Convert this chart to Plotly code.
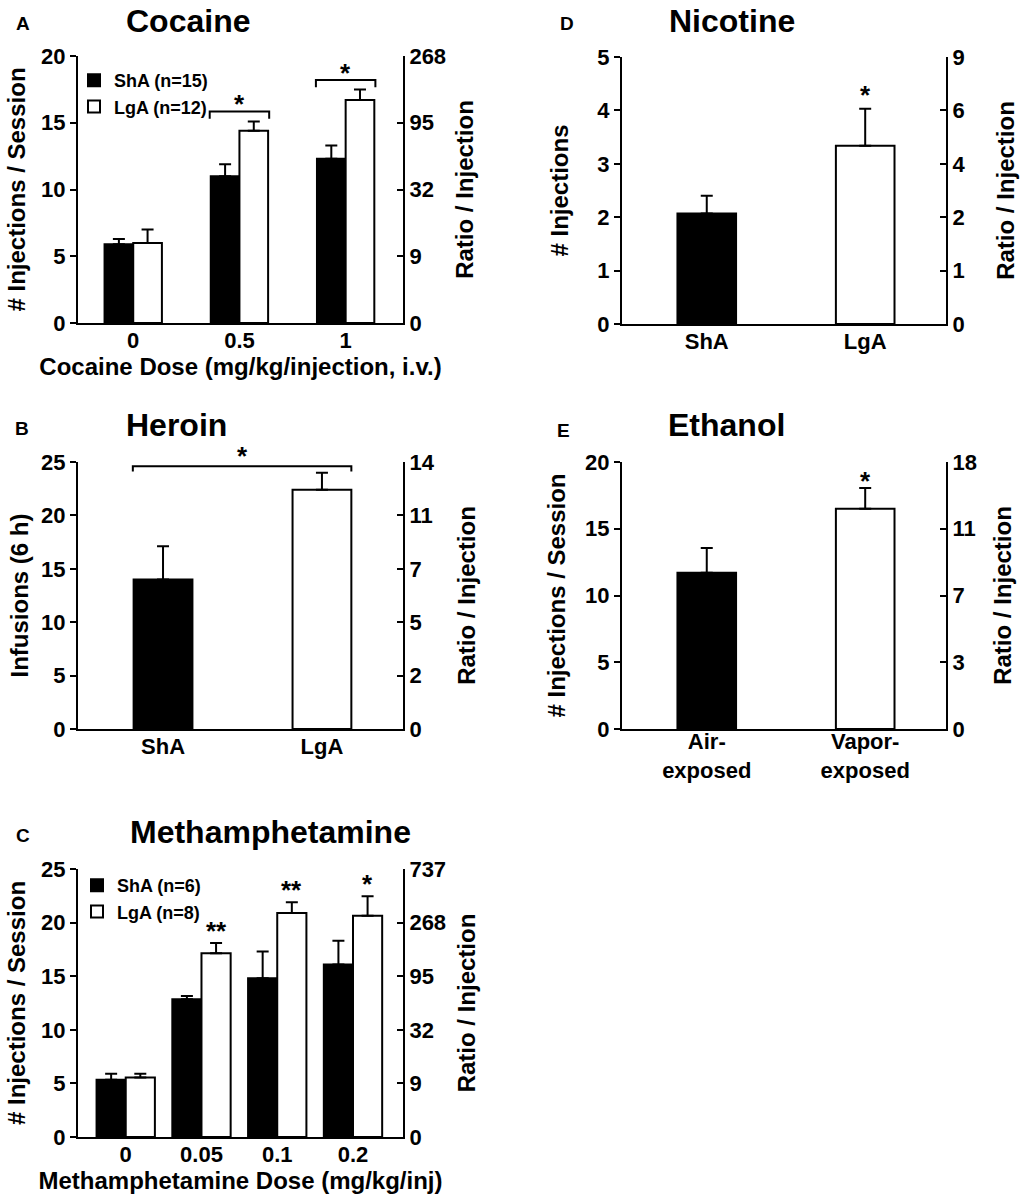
import plotly.graph_objects as go

FONT = "Liberation Sans, Arial, Helvetica, sans-serif"
FIG_W, FIG_H = 1034, 1198

# A: cocaine
cocaine_doses = ["0", "0.5", "1"]
cocaine_sha = [5.9, 11.0, 12.3]
cocaine_sha_err = [0.4, 0.9, 1.0]
cocaine_lga = [6.0, 14.4, 16.7]
cocaine_lga_err = [1.0, 0.7, 0.8]
cocaine_ratio = ["0", "9", "32", "95", "268"]
cocaine_brackets = [None, 15.85, 18.2]

# B: heroin
heroin_groups = ["ShA", "LgA"]
heroin_infusions = [14.0, 22.4]
heroin_err = [3.1, 1.6]
heroin_ratio = ["0", "2", "5", "7", "11", "14"]
heroin_bracket = 24.6

# C: methamphetamine
meth_doses = ["0", "0.05", "0.1", "0.2"]
meth_sha = [5.35, 12.85, 14.8, 16.1]
meth_sha_err = [0.55, 0.3, 2.5, 2.2]
meth_lga = [5.55, 17.15, 20.9, 20.65]
meth_lga_err = [0.35, 0.95, 1.0, 1.8]
meth_ratio = ["0", "9", "32", "95", "268", "737"]
meth_stars = ["", "**", "**", "*"]

# D: nicotine
nicotine_groups = ["ShA", "LgA"]
nicotine_inj = [2.07, 3.34]
nicotine_err = [0.33, 0.69]
nicotine_ratio = ["0", "1", "2", "4", "6", "9"]

# E: ethanol
ethanol_groups = ["Air-<br>exposed", "Vapor-<br>exposed"]
ethanol_inj = [11.7, 16.5]
ethanol_err = [1.85, 1.55]
ethanol_ratio = ["0", "3", "7", "11", "18"]


def bold(size):
    return dict(family=FONT, size=size, color="black", weight="bold")


def px_x(x):
    return x / FIG_W


def px_y(y):
    return 1 - y / FIG_H


def ids(n):
    """Return axis ids for panel n (x, left y, right y)."""
    x = "x" if n == 1 else f"x{n}"
    yl = "y" if n == 1 else f"y{2 * n - 1}"
    yr = f"y{2 * n}"
    return x, yl, yr


def layout_key(axis_id):
    return axis_id[0] + "axis" + axis_id[1:]


def add_axes(fig, n, box, labels, xrange, ymax, ystep, ratio, ytitle,
             xtitle=None, left_standoff=9, right_standoff=8, xlabel_shift=-3):
    """Set up bottom, left and right axes of one panel (box in pixels)."""
    x0, y0, x1, y1 = box
    x, yl, yr = ids(n)
    yvals = list(range(0, ymax + 1, ystep))
    line = dict(showline=True, linecolor="black", linewidth=2,
                showgrid=False, zeroline=False, automargin=False,
                fixedrange=True)

    fig.layout[layout_key(x)] = dict(
        domain=[px_x(x0), px_x(x1)], anchor=yl, range=xrange,
        tickvals=list(range(len(labels))), ticktext=labels, ticks="",
        tickfont=bold(22), ticklabelstandoff=xlabel_shift,
        title=dict(text=xtitle, font=bold(24), standoff=6) if xtitle else None,
        **line,
    )
    fig.layout[layout_key(yl)] = dict(
        domain=[px_y(y1), px_y(y0)], anchor=x, range=[0, ymax],
        tickvals=yvals, ticks="outside", ticklen=6, tickwidth=2,
        tickcolor="black", tickfont=bold(22),
        title=dict(text=ytitle, font=bold(24), standoff=left_standoff),
        **line,
    )
    fig.layout[layout_key(yr)] = dict(
        overlaying=yl, anchor=x, side="right", range=[0, ymax],
        tickvals=yvals[: len(ratio)], ticktext=ratio, ticks="inside",
        ticklen=6, tickwidth=2, tickcolor="black", tickfont=bold(22),
        title=dict(text="Ratio / Injection", font=bold(24),
                   standoff=right_standoff),
        **line,
    )
    # invisible trace so the right axis is drawn
    fig.add_trace(go.Scatter(x=[None], y=[None], xaxis=x, yaxis=yr,
                             showlegend=False, hoverinfo="skip"))


def error(err):
    return dict(type="data", array=err, arrayminus=[0] * len(err),
                symmetric=False, color="black", thickness=2, width=6)


def add_group_bars(fig, n, sha, sha_err, lga, lga_err, width, names, legend):
    x, yl, _ = ids(n)
    pos = list(range(len(sha)))
    for vals, errs, color, name, offset in [
        (sha, sha_err, "black", names[0], -width),
        (lga, lga_err, "white", names[1], 0),
    ]:
        fig.add_trace(go.Bar(
            x=pos, y=vals, width=width, offset=offset, name=name,
            marker=dict(color=color, line=dict(color="black", width=2)),
            error_y=error(errs), xaxis=x, yaxis=yl, legend=legend,
        ))


def add_pair_bars(fig, n, values, errs, width=0.37):
    x, yl, _ = ids(n)
    fig.add_trace(go.Bar(
        x=list(range(len(values))), y=values, width=width,
        marker=dict(color=["black", "white"],
                    line=dict(color="black", width=2)),
        error_y=error(errs), xaxis=x, yaxis=yl, showlegend=False,
    ))


def add_bracket(fig, n, left, right, height, drop):
    x, yl, _ = ids(n)
    fig.add_shape(
        type="path", xref=x, yref=yl,
        path=f"M {left},{height - drop} L {left},{height} "
             f"L {right},{height} L {right},{height - drop}",
        line=dict(color="black", width=2),
    )


def add_star(fig, n, xpos, ypos, text, shift):
    x, yl, _ = ids(n)
    fig.add_annotation(x=xpos, y=ypos, xref=x, yref=yl, text=text,
                       showarrow=False, yanchor="middle", yshift=shift,
                       font=bold(26))


def label(fig, text, xpx, ypx, size):
    fig.add_annotation(x=px_x(xpx), y=px_y(ypx), xref="paper",
                       yref="paper", text=text, showarrow=False,
                       xanchor="center", yanchor="middle", font=bold(size))


fig = go.Figure()

# Panel A
add_axes(fig, 1, (78, 56, 403, 323), cocaine_doses, [-0.52, 2.54], 20, 5,
         cocaine_ratio, "# Injections / Session",
         xtitle="Cocaine Dose (mg/kg/injection, i.v.)", right_standoff=11)
add_group_bars(fig, 1, cocaine_sha, cocaine_sha_err, cocaine_lga,
               cocaine_lga_err, 0.27, ["ShA (n=15)", "LgA (n=12)"], "legend")
for i, h in enumerate(cocaine_brackets):
    if h is not None:
        add_bracket(fig, 1, i - 0.28, i + 0.28, h, 0.55)
        add_star(fig, 1, i, h, "*", 7)

# Panel B
add_axes(fig, 2, (78, 462, 403, 729), heroin_groups, [-0.535, 1.51], 25, 5,
         heroin_ratio, "Infusions (6 h)", left_standoff=6, right_standoff=25)
add_pair_bars(fig, 2, heroin_infusions, heroin_err)
add_bracket(fig, 2, -0.19, 1.185, heroin_bracket, 0.5)
add_star(fig, 2, 0.5, heroin_bracket, "*", 10)

# Panel C
add_axes(fig, 3, (78, 869, 403, 1137), meth_doses, [-0.63, 3.66], 25, 5,
         meth_ratio, "# Injections / Session",
         xtitle="Methamphetamine Dose (mg/kg/inj)", right_standoff=13)
add_group_bars(fig, 3, meth_sha, meth_sha_err, meth_lga, meth_lga_err,
               0.385, ["ShA (n=6)", "LgA (n=8)"], "legend2")
for i, s in enumerate(meth_stars):
    if s:
        add_star(fig, 3, i + 0.1925, meth_lga[i] + meth_lga_err[i], s, 12)

# Panel D
add_axes(fig, 4, (622, 57, 946, 324), nicotine_groups, [-0.535, 1.51], 5, 1,
         nicotine_ratio, "# Injections", left_standoff=22, right_standoff=33)
add_pair_bars(fig, 4, nicotine_inj, nicotine_err)
add_star(fig, 4, 1, nicotine_inj[1] + nicotine_err[1], "*", 14)

# Panel E
add_axes(fig, 5, (622, 462, 946, 729), ethanol_groups, [-0.535, 1.51], 20, 5,
         ethanol_ratio, "# Injections / Session", left_standoff=13,
         right_standoff=18, xlabel_shift=-8)
add_pair_bars(fig, 5, ethanol_inj, ethanol_err)
add_star(fig, 5, 1, ethanol_inj[1] + ethanol_err[1], "*", 7)

# panel titles and letters
for text, xp, yp in [("Cocaine", 188, 21), ("Heroin", 176, 425),
                     ("Methamphetamine", 270, 832), ("Nicotine", 732, 21),
                     ("Ethanol", 726, 425)]:
    label(fig, text, xp, yp, 32)
for text, xp, yp in [("A", 23, 23), ("B", 22, 428), ("C", 23, 835),
                     ("D", 567, 23), ("E", 563, 430)]:
    label(fig, text, xp, yp, 19)

legend_style = dict(xanchor="left", yanchor="top", font=bold(18),
                    bgcolor="rgba(0,0,0,0)", borderwidth=0,
                    tracegroupgap=0, traceorder="normal")
fig.update_layout(
    width=FIG_W, height=FIG_H,
    margin=dict(l=0, r=0, t=0, b=0, autoexpand=False),
    paper_bgcolor="white", plot_bgcolor="white",
    font=dict(family=FONT, color="black"),
    barmode="overlay",
    showlegend=True,
    legend=dict(x=px_x(74), y=px_y(62), **legend_style),
    legend2=dict(x=px_x(77), y=px_y(867), **legend_style),
)

# drop the browser's default 8 px body margin so the figure fills the window
fig.write_html("out.html", config={"displayModeBar": False},
               post_script="document.body.style.margin = '0';")
